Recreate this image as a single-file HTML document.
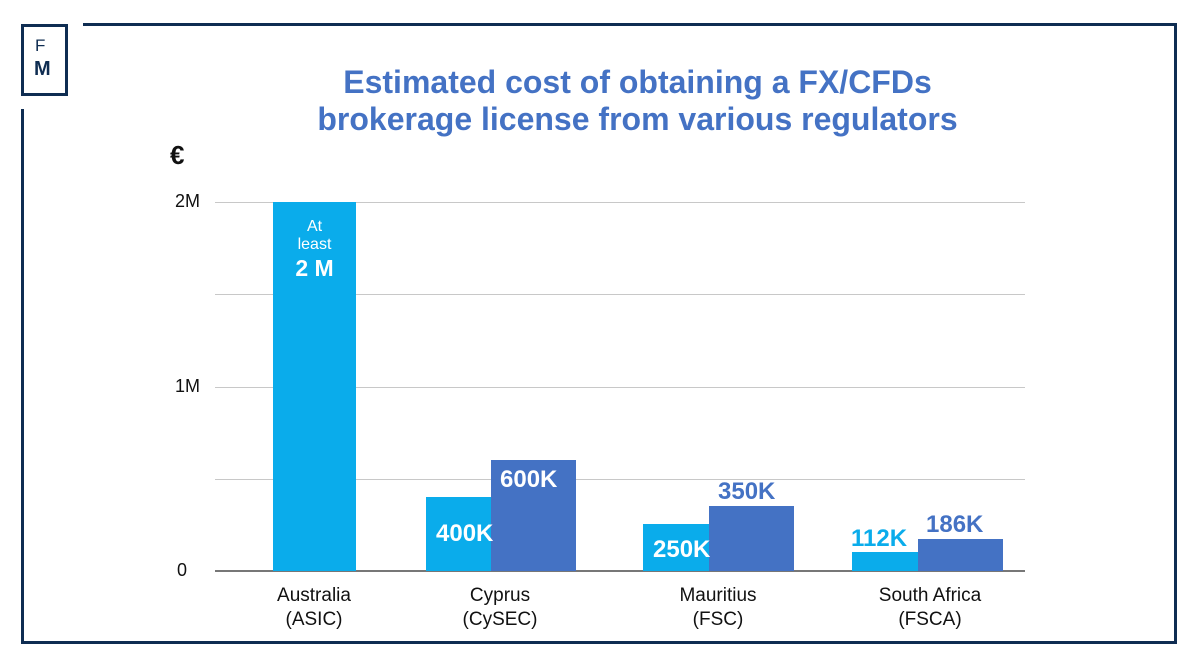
<!DOCTYPE html>
<html><head><meta charset="utf-8"><style>
body{margin:0;width:1200px;height:666px;background:#fff;position:relative;overflow:hidden;font-family:"Liberation Sans",sans-serif}
.a{position:absolute}
.t{color:#4472c4;font-weight:bold;font-size:32px;text-align:center;line-height:37px}
.g{position:absolute;left:215px;width:810px;height:1px;background:#c8c8c8}
.l{position:absolute;background:#0aaceb}
.d{position:absolute;background:#4472c4}
.v{position:absolute;color:#fff;font-weight:bold;font-size:24px}
.vb{position:absolute;color:#4472c4;font-weight:bold;font-size:24px}
.y{position:absolute;font-size:18px;color:#111;text-align:right;width:50px;left:150px}
.x{position:absolute;font-size:19px;color:#111;text-align:center;width:160px;line-height:24px}
</style></head><body>
<div class="a" style="left:83px;top:23px;width:1094px;height:3px;background:#0f2d52"></div>
<div class="a" style="left:1174px;top:23px;width:3px;height:621px;background:#0f2d52"></div>
<div class="a" style="left:21px;top:109px;width:3px;height:535px;background:#0f2d52"></div>
<div class="a" style="left:21px;top:641px;width:1156px;height:3px;background:#0f2d52"></div>
<div class="a" style="left:21px;top:24px;width:41px;height:66px;border:3px solid #0f2d52"></div>
<div class="a" style="left:35px;top:36px;font-size:17px;color:#0f2d52">F</div>
<div class="a" style="left:34px;top:58px;font-size:20px;font-weight:bold;color:#0f2d52">M</div>
<div class="a t" style="left:200px;top:64px;width:875px">Estimated cost of obtaining a FX/CFDs<br>brokerage license from various regulators</div>
<div class="a" style="left:170px;top:140px;font-size:26px;font-weight:bold;color:#111">€</div>
<div class="g" style="top:202px"></div><div class="g" style="top:294px"></div><div class="g" style="top:387px"></div><div class="g" style="top:479px"></div>
<div class="a" style="left:215px;top:570px;width:810px;height:2px;background:#777"></div>
<div class="y" style="top:191px">2M</div><div class="y" style="top:376px">1M</div><div class="y" style="top:560px;left:137px">0</div>
<div class="l" style="left:273px;top:202px;width:83px;height:369px"></div>
<div class="a" style="left:273px;top:218px;width:83px;text-align:center;color:#fff;font-size:16px;line-height:18px">At<br>least</div>
<div class="a" style="left:273px;top:255px;width:83px;text-align:center;color:#fff;font-size:23px;font-weight:bold">2 M</div>
<div class="l" style="left:426px;top:497px;width:83px;height:74px"></div>
<div class="d" style="left:491px;top:460px;width:85px;height:111px"></div>
<div class="v" style="left:436px;top:520px">400K</div><div class="v" style="left:500px;top:466px">600K</div>
<div class="l" style="left:643px;top:524px;width:83px;height:47px"></div>
<div class="d" style="left:709px;top:506px;width:85px;height:65px"></div>
<div class="v" style="left:653px;top:536px">250K</div><div class="vb" style="left:718px;top:478px">350K</div>
<div class="l" style="left:852px;top:552px;width:84px;height:19px"></div>
<div class="d" style="left:918px;top:539px;width:85px;height:32px"></div>
<div class="a" style="left:851px;top:525px;color:#0aaceb;font-weight:bold;font-size:24px">112K</div>
<div class="vb" style="left:926px;top:511px">186K</div>
<div class="x" style="left:234px;top:584px">Australia<br>(ASIC)</div>
<div class="x" style="left:420px;top:584px">Cyprus<br>(CySEC)</div>
<div class="x" style="left:638px;top:584px">Mauritius<br>(FSC)</div>
<div class="x" style="left:850px;top:584px">South Africa<br>(FSCA)</div>
</body></html>
